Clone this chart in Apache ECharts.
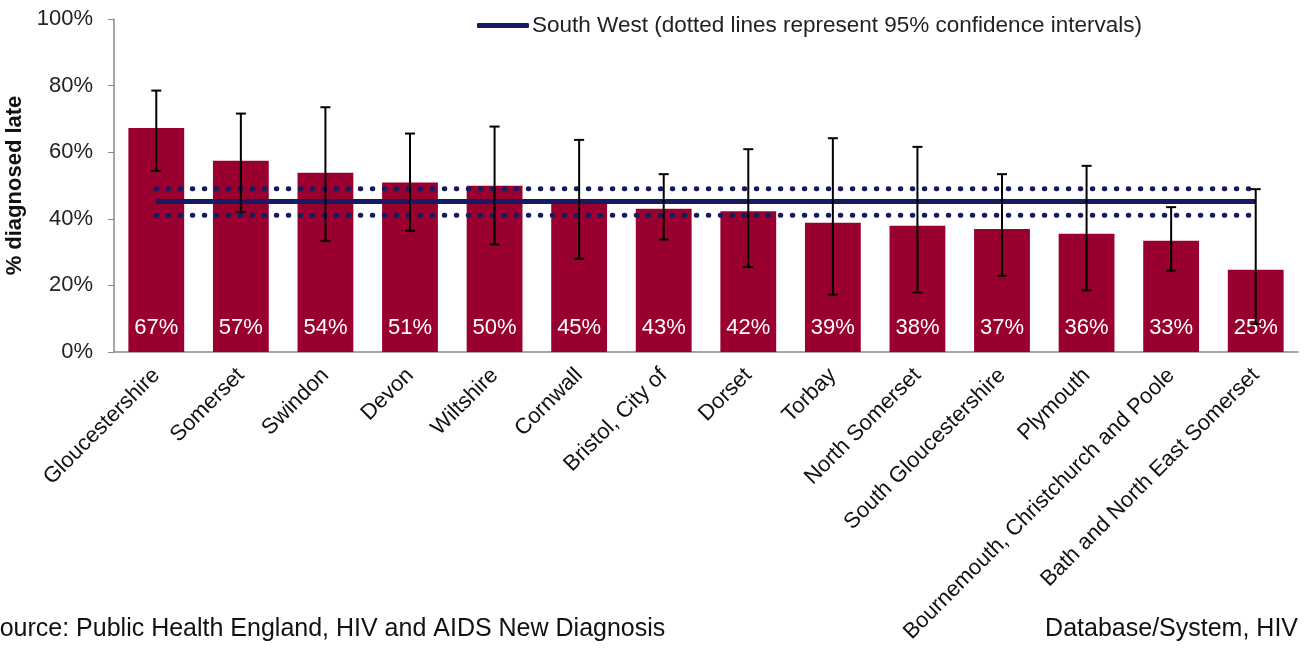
<!DOCTYPE html>
<html>
<head>
<meta charset="utf-8">
<script src="https://cdn.jsdelivr.net/npm/echarts@6/dist/echarts.min.js"></script>
<style>
  html, body { margin: 0; padding: 0; background: #fff; }
  #chart { width: 1304px; height: 650px; }
</style>
</head>
<body>
<div id="chart"></div>
<script>
// areas, ordered as in the picture
const areas = ['Gloucestershire', 'Somerset', 'Swindon', 'Devon', 'Wiltshire', 'Cornwall',
  'Bristol, City of', 'Dorset', 'Torbay', 'North Somerset', 'South Gloucestershire',
  'Plymouth', 'Bournemouth, Christchurch and Poole', 'Bath and North East Somerset']
// % diagnosed late
const pctLate = [67.3, 57.4, 53.8, 50.9, 49.9, 45.0, 43.0, 42.3, 38.8, 37.9, 36.9, 35.5, 33.4, 24.7]
// 95% confidence interval per area
const ciLow = [54.4, 42.0, 33.4, 36.4, 32.3, 28.0, 33.8, 25.5, 17.2, 17.9, 22.9, 18.5, 24.4, 8.4]
const ciHigh = [78.5, 71.6, 73.5, 65.6, 67.7, 63.7, 53.4, 60.9, 64.2, 61.6, 53.4, 55.9, 43.5, 48.9]
// South West value and its interval
const swValue = 45.2
const swLow = 41.1
const swHigh = 49.0

const navy = '#161b5f'
const font = 'Liberation Sans, Arial, sans-serif'
const swName = 'South West (dotted lines represent 95% confidence intervals)'

let chart = echarts.init(document.getElementById('chart'))

let errData = areas.map((a, i) => [i, ciLow[i], ciHigh[i]])

function renderErr(params, api) {
  let low = api.coord([api.value(0), api.value(1)])
  let high = api.coord([api.value(0), api.value(2)])
  let half = 5
  let style = { stroke: '#000', lineWidth: 2 }
  return {
    type: 'group',
    children: [
      { type: 'line', shape: { x1: high[0], y1: high[1], x2: low[0], y2: low[1] }, style: style },
      { type: 'line', shape: { x1: high[0] - half, y1: high[1], x2: high[0] + half, y2: high[1] }, style: style },
      { type: 'line', shape: { x1: low[0] - half, y1: low[1], x2: low[0] + half, y2: low[1] }, style: style }
    ]
  }
}

let option = {
  animation: false,
  textStyle: { fontFamily: font },
  grid: { left: 114, right: 6, top: 19, bottom: 298, outerBoundsMode: 'none' },
  legend: {
    data: [swName],
    left: 472,
    top: 9,
    icon: 'roundRect',
    itemWidth: 52,
    itemHeight: 5,
    itemGap: 4,
    textStyle: { fontSize: 22.5, color: '#222', fontFamily: font, padding: [0, 0, 0, -2] }
  },
  xAxis: {
    type: 'category',
    data: areas,
    axisLine: { lineStyle: { color: '#888', width: 1.5 } },
    axisTick: { length: 6, lineStyle: { color: '#888' } },
    axisLabel: {
      interval: 0,
      rotate: 45,
      margin: 20,
      fontSize: 22,
      color: '#111',
      fontFamily: font
    }
  },
  yAxis: {
    type: 'value',
    min: 0,
    max: 100,
    interval: 20,
    name: '% diagnosed late',
    nameLocation: 'middle',
    nameGap: 79,
    nameTextStyle: { fontSize: 22, fontWeight: 'bold', color: '#111', fontFamily: font },
    axisLine: { show: true, lineStyle: { color: '#888', width: 1.5 } },
    axisTick: { show: true, length: 6, lineStyle: { color: '#888' } },
    splitLine: { show: false },
    axisLabel: {
      formatter: '{value}%',
      fontSize: 22,
      color: '#222',
      margin: 21,
      fontFamily: font
    }
  },
  series: [
    {
      type: 'bar',
      data: pctLate,
      barCategoryGap: '34%',
      itemStyle: { color: '#990030' },
      label: {
        show: true,
        position: 'insideBottom',
        distance: 13,
        formatter: p => Math.round(p.value) + '%',
        color: '#fff',
        fontSize: 22,
        fontFamily: font
      },
      z: 2
    },
    {
      type: 'custom',
      data: errData,
      renderItem: renderErr,
      encode: { x: 0, y: [1, 2] },
      z: 5
    },
    {
      name: swName,
      type: 'line',
      data: areas.map(() => swValue),
      symbol: 'none',
      lineStyle: { color: navy, width: 5 },
      itemStyle: { color: navy },
      z: 4
    },
    {
      name: 'swHigh',
      type: 'line',
      data: areas.map(() => swHigh),
      symbol: 'none',
      lineStyle: { color: navy, width: 5, type: [0.5, 11.5], cap: 'round' },
      z: 4
    },
    {
      name: 'swLow',
      type: 'line',
      data: areas.map(() => swLow),
      symbol: 'none',
      lineStyle: { color: navy, width: 5, type: [0.5, 11.5], cap: 'round' },
      z: 4
    }
  ],
  graphic: [
    {
      type: 'text',
      left: -17,
      top: 617,
      style: { text: 'Source: Public Health England, HIV and AIDS New Diagnosis', fontSize: 25, fill: '#111', fontFamily: font }
    },
    {
      type: 'text',
      right: 6,
      top: 617,
      style: { text: 'Database/System, HIV', fontSize: 25, fill: '#111', fontFamily: font }
    }
  ]
}

chart.setOption(option)
</script>
</body>
</html>
